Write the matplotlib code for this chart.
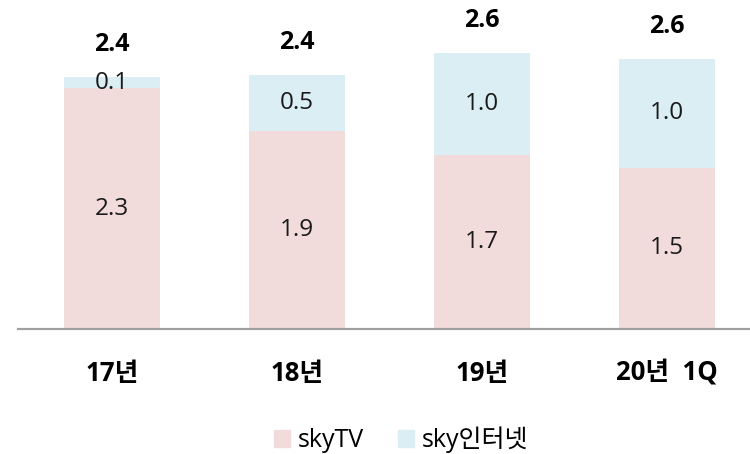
import matplotlib
matplotlib.use("Agg")
import matplotlib.pyplot as plt
import numpy as np
from matplotlib.patches import Patch

plt.rcParams['font.family'] = ['Open Sans', 'Noto Sans CJK KR', 'DejaVu Sans']

# data
categories = ["17년", "18년", "19년", "20년  1Q"]
sky_tv = [2.30, 1.89, 1.66, 1.54]
sky_internet = [0.11, 0.54, 0.98, 1.04]
series_names = ["skyTV", "sky인터넷"]

tv_color = "#F2DCDB"
net_color = "#DAEEF3"

fig = plt.figure(figsize=(7.5, 4.54), dpi=100)
ax = fig.add_axes([18 / 750, 125 / 454, 732 / 750, 314 / 454])

x = np.arange(len(categories))
width = 0.52
totals = np.array(sky_tv) + np.array(sky_internet)

ax.bar(x, sky_tv, width, color=tv_color, zorder=2)
ax.bar(x, sky_internet, width, bottom=sky_tv, color=net_color, zorder=2)

# value labels inside the bars
for i in range(len(x)):
    ax.text(x[i], sky_tv[i] / 2, f"{sky_tv[i]:.1f}", ha='center', va='center',
            fontsize=17.5, color='#1a1a1a')
    ax.text(x[i], sky_tv[i] + sky_internet[i] / 2, f"{sky_internet[i]:.1f}",
            ha='center', va='center', fontsize=17.5, color='#1a1a1a')
    ax.text(x[i], totals[i] + 0.31, f"{totals[i]:.1f}", ha='center', va='center',
            fontsize=18, fontweight='bold', color='black')

ax.set_xlim(-0.508, 3.449)
ax.set_ylim(0, 3)

for side in ['top', 'right', 'left']:
    ax.spines[side].set_visible(False)
ax.spines['bottom'].set_color('#A0A0A0')
ax.spines['bottom'].set_linewidth(1.6)
ax.set_yticks([])
ax.set_xticks(x)
ax.set_xticklabels(categories, fontsize=18.5, fontweight='bold')
ax.tick_params(axis='x', length=0, pad=22)

handles = [Patch(color=tv_color), Patch(color=net_color)]
fig.legend(handles, series_names, loc='center', bbox_to_anchor=(401 / 750, 1 - 440 / 454),
           ncol=2, frameon=False, fontsize=18, handlelength=0.65, handleheight=0.65,
           handletextpad=0.3, columnspacing=1.35)

fig.savefig("out.png", dpi=100)
